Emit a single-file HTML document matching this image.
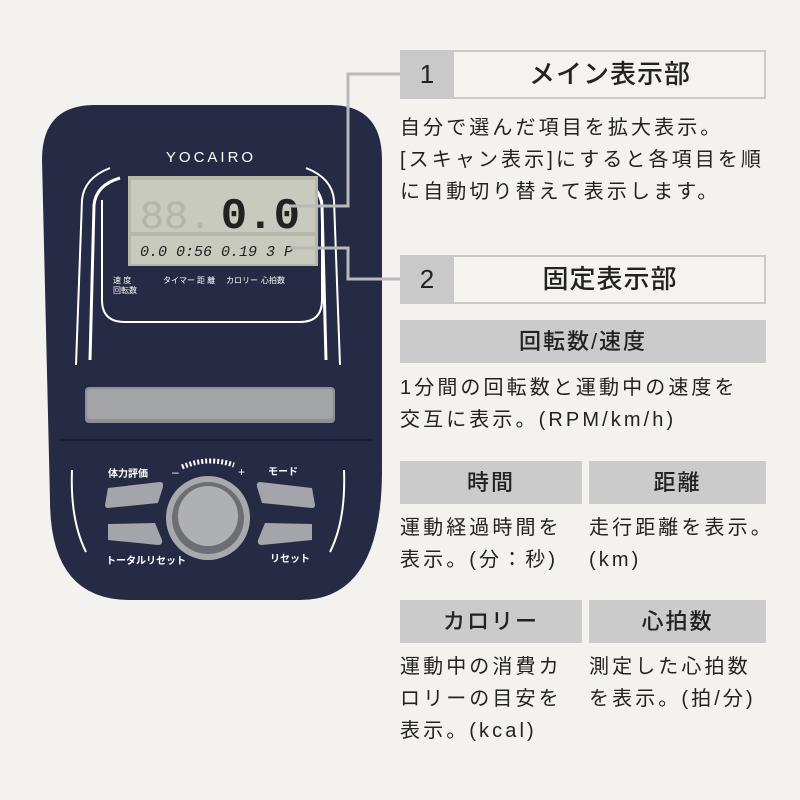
<!DOCTYPE html>
<html><head><meta charset="utf-8"><style>
body{margin:0;width:800px;height:800px;background:#f3f2ee;position:relative;overflow:hidden;font-family:"Liberation Sans","Noto Sans CJK JP",sans-serif;color:#222}
.a{position:absolute}
.hb{position:absolute;left:400px;width:362px;height:45px;border:2px solid #c9c9c9;background:#f4f3ef}
.hb .n{position:absolute;left:-2px;top:-2px;width:54px;height:49px;background:#c9c9c9;font-size:26px;text-align:center;line-height:49px}
.hb .t{position:absolute;left:54px;right:0;top:0;line-height:45px;text-align:center;font-size:26px;letter-spacing:1px;font-weight:500}
.g{position:absolute;background:#cbcbcb;height:43px;line-height:43px;text-align:center;font-size:22px;letter-spacing:2px;font-weight:500}
.p{position:absolute;font-size:20px;line-height:32px;letter-spacing:3.1px;white-space:nowrap}
</style></head><body>
<svg class="a" style="left:0;top:0" width="800" height="800">
<path d="M95,105 L330,105 Q382,105 382,160 L382,470 Q382,600 300,600 L130,600 Q50,600 50,500 L42,160 Q42,105 95,105 Z" fill="#262b45"/>
<path d="M60,440 L372,440" stroke="#1c2035" stroke-width="2"/>
<path d="M90,360 L94,205 Q96,185 120,178" fill="none" stroke="#fff" stroke-width="3"/>
<path d="M76,365 L82,200 Q84,178 110,168" fill="none" stroke="#fff" stroke-width="2"/>
<path d="M326,360 L322,205 Q320,185 296,178" fill="none" stroke="#fff" stroke-width="3"/>
<path d="M340,365 L334,200 Q332,178 306,168" fill="none" stroke="#fff" stroke-width="2"/>
<path d="M102,200 L102,300 Q102,322 125,322 L300,322 Q322,322 322,300 L322,200" fill="none" stroke="#fff" stroke-width="2"/>
<text x="211" y="162" fill="#fff" font-size="15" text-anchor="middle" letter-spacing="3" font-family="Liberation Sans">YOCAIRO</text>
<rect x="128" y="176" width="190" height="90" fill="#b6b8ad"/>
<rect x="131" y="180" width="184" height="52" fill="#c7cabc"/>
<rect x="131" y="236" width="184" height="28" fill="#c7cabc"/>
<text x="300" y="228" font-size="44" font-weight="bold" text-anchor="end" fill="#222" font-family="Liberation Mono">0.0</text>
<text x="140" y="228" font-size="40" fill="#b2b5a8" font-family="Liberation Mono">88.</text>
<text x="140" y="256" font-size="15" fill="#222" font-family="Liberation Mono" font-style="italic">0.0 0:56 0.19  3 P</text>
<text x="113" y="283" font-size="8" fill="#fff" font-family="Liberation Sans,Noto Sans CJK JP">速 度</text>
<text x="113" y="293" font-size="8" fill="#fff" font-family="Liberation Sans,Noto Sans CJK JP">回転数</text>
<text x="163" y="283" font-size="8" fill="#fff" font-family="Liberation Sans,Noto Sans CJK JP">タイマー</text>
<text x="197" y="283" font-size="8" fill="#fff" font-family="Liberation Sans,Noto Sans CJK JP">距 離</text>
<text x="226" y="283" font-size="8" fill="#fff" font-family="Liberation Sans,Noto Sans CJK JP">カロリー</text>
<text x="261" y="283" font-size="8" fill="#fff" font-family="Liberation Sans,Noto Sans CJK JP">心拍数</text>
<rect x="85" y="387" width="250" height="36" rx="4" fill="#8d8f94"/>
<rect x="87" y="389" width="246" height="30" rx="3" fill="#a2a4a8"/>
<path d="M108,488 L160,482 Q165,482 162,490 L158,503 L108,508 Q105,508 105,505 Z" fill="#a3a5aa"/>
<path d="M108,524 L155,523 L162,540 Q163,545 158,545 L108,540 Z" fill="#a3a5aa"/>
<path d="M312,488 L260,482 Q255,482 258,490 L262,503 L312,508 Q315,508 315,505 Z" fill="#a3a5aa"/>
<path d="M312,524 L265,523 L258,540 Q257,545 262,545 L312,540 Z" fill="#a3a5aa"/>
<circle cx="208" cy="518" r="42" fill="#a7a9ad"/>
<circle cx="208" cy="518" r="36" fill="#6c6e74"/>
<circle cx="208" cy="516" r="30" fill="#aeb0b4"/>
<path d="M72,470 Q70,520 86,552" fill="none" stroke="#fff" stroke-width="2"/>
<path d="M344,470 Q346,520 330,552" fill="none" stroke="#fff" stroke-width="2"/>
<text x="108" y="477" font-size="10" fill="#fff" font-family="Liberation Sans,Noto Sans CJK JP" font-weight="bold">体力評価</text>
<text x="268" y="475" font-size="10" fill="#fff" font-family="Liberation Sans,Noto Sans CJK JP" font-weight="bold">モード</text>
<text x="106" y="564" font-size="10" fill="#fff" font-family="Liberation Sans,Noto Sans CJK JP" font-weight="bold">トータルリセット</text>
<text x="270" y="562" font-size="10" fill="#fff" font-family="Liberation Sans,Noto Sans CJK JP" font-weight="bold">リセット</text>
<text x="172" y="476" font-size="12" fill="#fff">–</text>
<text x="238" y="476" font-size="12" fill="#fff">+</text>
<path d="M182,467 Q208,456 234,465" fill="none" stroke="#fff" stroke-width="5" stroke-dasharray="2 2"/>
<polyline points="400,74 348,74 348,206 290,206" fill="none" stroke="#b9b9b9" stroke-width="3"/>
<polyline points="400,279 348,279 348,248 290,248" fill="none" stroke="#b9b9b9" stroke-width="3"/>
</svg>
<div class="hb" style="top:50px"><div class="n">1</div><div class="t">メイン表示部</div></div>
<div class="p" style="left:400px;top:112px">自分で選んだ項目を拡大表示。<br>[スキャン表示]にすると各項目を順<br>に自動切り替えて表示します。</div>
<div class="hb" style="top:255px"><div class="n">2</div><div class="t">固定表示部</div></div>
<div class="g" style="left:400px;top:320px;width:366px">回転数/速度</div>
<div class="p" style="left:400px;top:372px">1分間の回転数と運動中の速度を<br>交互に表示。(RPM/km/h)</div>
<div class="g" style="left:400px;top:461px;width:182px">時間</div>
<div class="g" style="left:589px;top:461px;width:177px">距離</div>
<div class="p" style="left:400px;top:512px">運動経過時間を<br>表示。(分：秒)</div>
<div class="p" style="left:589px;top:512px">走行距離を表示。<br>(km)</div>
<div class="g" style="left:400px;top:600px;width:182px">カロリー</div>
<div class="g" style="left:589px;top:600px;width:177px">心拍数</div>
<div class="p" style="left:400px;top:651px">運動中の消費カ<br>ロリーの目安を<br>表示。(kcal)</div>
<div class="p" style="left:589px;top:651px">測定した心拍数<br>を表示。(拍/分)</div>
</body></html>
